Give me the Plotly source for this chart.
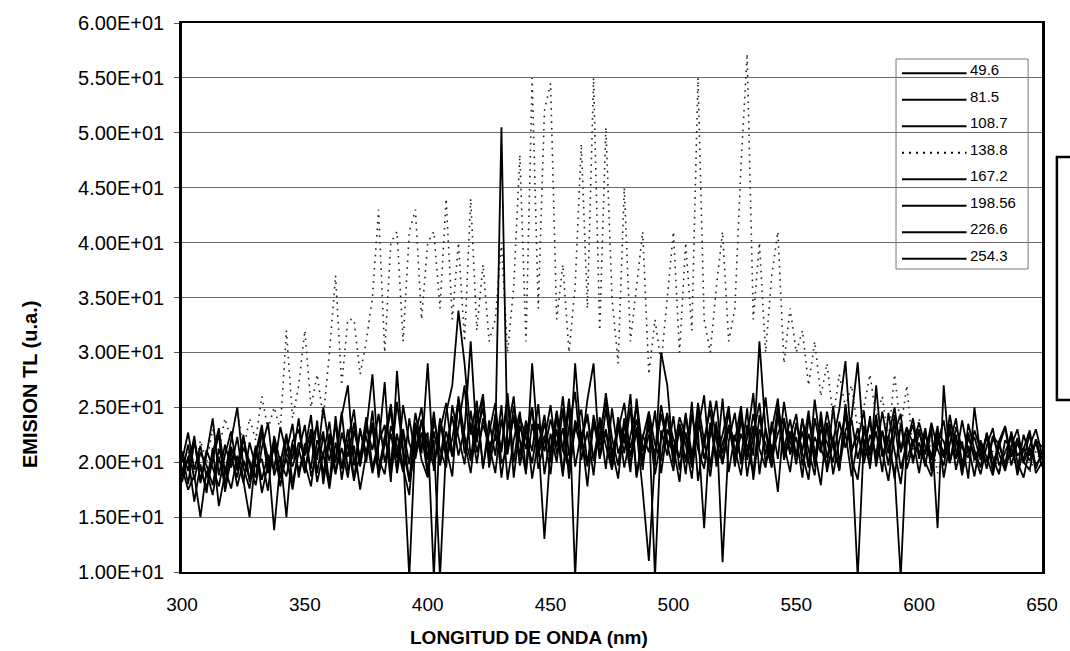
import plotly.graph_objects as go

# ---------------- data ----------------
# wavelength sampling grid (nm), 2.5 nm step from 300 to 650
wavelength = [300 + 2.5 * i for i in range(141)]

series_names = ["49.6", "81.5", "108.7", "138.8", "167.2", "198.56", "226.6", "254.3"]

em_49_6 = [
    19.5, 17.5, 18.8, 15.0, 19.2, 17.0, 20.5, 18.0, 21.0, 17.8,
    20.2, 18.5, 21.5, 17.2, 19.8, 22.0, 18.6, 20.4, 17.5, 21.2,
    19.0, 22.5, 18.2, 20.8, 17.6, 21.8, 19.4, 23.0, 18.5, 20.6,
    22.4, 19.0, 21.5, 27.3, 18.8, 22.6, 19.5, 17.0, 23.4, 20.2,
    18.6, 22.8, 19.8, 24.5, 27.0, 33.8, 29.0, 22.5, 25.6, 19.4,
    23.8, 20.6, 25.2, 18.4, 22.0, 24.6, 19.2, 23.5, 20.8, 22.4,
    18.9, 24.2, 21.0, 25.8, 19.6, 22.7, 17.8, 23.9, 20.4, 24.8,
    21.2, 18.5, 23.6, 19.8, 22.9, 17.4, 11.0, 20.5, 24.4, 21.6,
    19.2, 23.4, 20.0, 25.5, 18.3, 22.1, 24.8, 19.6, 21.8, 23.2,
    20.4, 24.6, 18.7, 22.5, 25.4, 19.9, 21.6, 17.3, 23.8, 20.7,
    22.3, 18.6, 24.1, 20.9, 17.9, 23.6, 21.4, 19.3, 24.9, 20.2,
    18.4, 23.3, 20.6, 22.8, 19.1, 24.5, 21.0, 18.0, 22.6, 20.3,
    21.8, 19.6, 23.2, 14.0, 27.0, 20.1, 22.5, 19.0, 21.5, 18.7,
    22.0, 20.4, 18.8, 21.9, 19.5, 22.8, 20.0, 18.6, 21.3, 19.8,
    20.5,
]

em_81_5 = [
    21.0, 19.2, 22.4, 18.1, 20.7, 24.0, 18.8, 21.6, 19.5, 22.3,
    18.3, 15.0, 20.6, 22.8, 19.1, 21.4, 17.8, 20.9, 23.5, 18.6,
    21.7, 19.4, 23.8, 18.0, 22.1, 20.3, 24.6, 19.2, 21.5, 17.5,
    20.8, 23.2, 18.9, 21.6, 24.8, 19.0, 22.7, 18.2, 21.1, 23.9,
    19.3, 22.0, 9.5, 21.4, 24.2, 20.6, 23.0, 31.0, 21.8, 25.9,
    20.1, 24.4, 18.6, 22.9, 26.0, 19.7, 23.1, 21.0, 25.3, 18.9,
    22.6, 20.0, 24.9, 18.5, 23.4, 21.2, 25.7, 29.0, 20.3, 22.8,
    19.4, 24.1, 21.7, 26.2, 18.8, 22.5, 20.9, 24.7, 19.0, 23.0,
    21.4, 18.2, 24.3, 20.7, 22.9, 26.1, 19.5, 23.7, 10.9, 21.9,
    24.5, 19.8, 22.2, 26.3, 18.9, 23.1, 20.4, 25.2, 21.6, 19.1,
    23.6, 20.8, 18.4, 24.0, 21.3, 19.6, 25.1, 20.0, 22.7, 18.7,
    21.9, 24.7, 19.4, 27.0, 20.6, 22.4, 18.5, 23.5, 20.2, 22.1,
    19.0, 22.6, 20.5, 23.3, 18.6, 21.7, 24.0, 19.8, 22.2, 20.7,
    18.9, 21.5, 23.1, 19.7, 20.9, 22.4, 18.8, 21.2, 22.9, 19.4,
    21.0,
]

em_108_7 = [
    18.2, 20.5, 16.4, 19.8, 17.2, 21.3, 16.0, 19.0, 22.1, 25.0,
    19.5, 17.6, 21.2, 18.4, 20.7, 13.8, 19.9, 22.6, 18.1, 21.0,
    23.4, 18.7, 20.9, 22.8, 17.9, 24.2, 19.4, 21.7, 18.3, 23.1,
    20.0, 24.7, 18.6, 22.3, 19.7, 25.5, 21.0, 18.4, 23.6, 20.8,
    29.0, 19.2, 24.0, 21.5, 18.7, 26.0, 22.4, 20.1, 24.8, 19.6,
    22.7, 25.4, 19.9, 21.1, 24.3, 20.6, 23.8, 18.5, 22.0, 13.0,
    21.3, 24.5, 19.0, 23.2, 26.4, 20.2, 22.8, 18.8, 24.1, 21.5,
    19.3, 23.7, 20.8, 25.0, 18.6, 22.2, 24.6, 19.7, 30.0, 27.0,
    20.5, 22.9, 18.9, 24.4, 21.2, 19.4, 23.6, 20.0, 25.8, 19.1,
    22.5, 20.3, 24.9, 18.4, 23.0, 21.7, 19.5, 24.2, 20.6, 22.8,
    19.8, 23.9, 21.1, 18.8, 24.6, 20.4, 22.3, 19.2, 25.3, 21.0,
    9.5, 22.0, 19.6, 23.8, 20.9, 18.3, 22.7, 24.4, 19.4, 21.6,
    23.0, 20.0, 18.7, 22.4, 20.8, 23.5, 19.3, 21.9, 18.5, 25.0,
    20.6, 22.3, 19.1, 21.4, 23.2, 19.7, 21.8, 20.2, 22.6, 19.0,
    20.0,
]

em_138_8 = [
    20.0, 21.0, 19.0, 22.0, 20.0, 23.0, 21.0, 24.0, 22.0, 25.0,
    21.0, 24.0, 22.0, 26.0, 23.0, 25.0, 23.0, 32.0, 24.0, 27.0,
    32.0, 25.0, 28.0, 24.0, 30.0, 37.0, 27.0, 33.0, 33.0, 28.0,
    31.0, 35.0, 43.0, 30.0, 40.0, 41.0, 31.0, 41.0, 43.0, 33.0,
    40.0, 41.0, 34.0, 44.0, 33.0, 40.0, 31.0, 44.0, 32.0, 38.0,
    31.0, 33.0, 40.0, 30.0, 36.0, 48.0, 31.0, 55.0, 34.0, 52.0,
    54.5, 33.0, 38.0, 30.0, 36.0, 49.0, 34.0, 55.0, 32.0, 50.5,
    35.0, 29.0, 45.0, 31.0, 36.0, 41.0, 28.0, 33.0, 29.0, 35.0,
    41.0, 30.0, 40.0, 32.0, 55.0, 33.0, 30.0, 36.0, 41.0, 31.0,
    34.0, 47.0, 57.2, 33.0, 40.0, 30.0, 37.0, 41.0, 29.0, 34.0,
    30.0, 32.0, 27.0, 31.0, 26.0, 29.0, 24.0, 28.0, 25.0, 27.0,
    23.0, 25.0, 28.0, 24.0, 26.0, 22.0, 28.0, 23.0, 27.0, 21.0,
    24.0, 20.0, 22.0, 19.0, 21.0, 20.0, 22.0, 19.0, 21.0, 20.0,
    22.0, 20.0, 21.0, 19.0, 21.0, 22.0, 20.0, 21.0, 19.0, 21.0,
    20.0,
]

em_167_2 = [
    20.8, 18.0, 21.9, 19.4, 17.7, 20.2, 22.6, 17.3, 20.4, 18.6,
    22.2, 19.7, 17.9, 21.3, 23.6, 18.8, 20.5, 15.0, 21.7, 19.2,
    21.1, 24.3, 19.0, 22.4, 20.1, 23.5, 18.4, 21.9, 24.8, 19.6,
    22.9, 28.0, 20.3, 18.9, 23.3, 21.5, 19.1, 24.0, 20.6, 22.7,
    18.8, 23.8, 21.2, 19.5, 25.2, 22.3, 19.8, 24.7, 20.9, 23.4,
    21.6, 19.0, 23.9, 20.7, 25.1, 22.0, 18.9, 29.0, 21.4, 24.3,
    20.0, 23.0, 18.7, 25.6, 9.5, 22.5, 24.1, 20.3, 23.6, 19.4,
    24.9, 20.8, 22.6, 19.1, 25.8, 21.0, 23.3, 18.9, 22.1, 24.5,
    19.8, 23.5, 21.6, 18.5, 24.7, 20.3, 22.5, 25.6, 19.9, 23.1,
    21.3, 18.8, 23.4, 20.6, 31.0, 22.8, 19.7, 24.6, 21.1, 23.9,
    20.5, 22.8, 19.5, 25.7, 21.4, 23.3, 18.9, 22.0, 24.2, 20.9,
    23.1, 19.9, 22.5, 20.7, 24.6, 21.3, 19.2, 9.5, 21.8, 23.4,
    20.3, 22.9, 19.6, 21.7, 23.8, 20.0, 22.2, 18.8, 23.5, 21.1,
    19.5, 22.7, 20.4, 18.9, 22.0, 21.2, 19.3, 22.5, 20.6, 21.8,
    19.6,
]

em_198_56 = [
    19.0, 21.6, 18.4, 20.9, 19.7, 17.9, 21.2, 19.3, 17.6, 20.6,
    18.1, 21.8, 19.6, 20.3, 17.4, 22.4, 20.0, 18.7, 21.9, 23.0,
    19.9, 17.8, 22.0, 20.6, 23.7, 19.1, 21.3, 18.6, 22.9, 20.4,
    24.1, 19.5, 21.8, 23.4, 18.2, 28.3, 20.7, 9.5, 22.5, 25.0,
    20.2, 24.6, 19.7, 22.8, 20.5, 25.3, 21.9, 19.0, 23.7, 26.2,
    19.5, 22.6, 20.9, 25.9, 18.6, 23.3, 21.2, 24.9, 19.4, 22.0,
    25.2, 20.7, 23.1, 19.3, 29.0, 21.8, 24.4, 20.1, 22.6, 25.5,
    20.4, 23.5, 19.5, 22.4, 25.1, 20.0, 23.8, 9.5, 22.9, 20.6,
    24.2, 19.3, 22.7, 20.1, 25.4, 21.9, 18.7, 23.3, 20.8, 24.7,
    19.6, 23.8, 21.4, 19.0, 24.3, 20.7, 22.9, 25.8, 20.2, 22.4,
    24.4, 19.7, 22.6, 20.3, 23.9, 19.1, 22.1, 24.8, 29.2, 21.2,
    22.4, 20.5, 24.2, 19.6, 22.9, 20.8, 23.6, 19.4, 21.7, 24.0,
    20.6, 23.1, 19.2, 22.0, 20.4, 24.3, 21.0, 19.5, 22.7, 20.2,
    21.7, 19.4, 22.2, 20.8, 19.2, 21.5, 23.0, 20.0, 19.3, 22.1,
    20.2,
]

em_226_6 = [
    20.1, 22.7, 19.3, 21.5, 18.6, 20.8, 23.1, 18.9, 21.4, 19.6,
    22.5, 18.2, 20.9, 23.4, 19.0, 21.7, 18.5, 22.1, 20.3, 24.0,
    19.4, 21.9, 23.3, 18.8, 22.6, 20.0, 24.2, 27.0, 19.7, 22.8,
    20.9, 23.6, 19.2, 22.2, 25.3, 20.4, 23.0, 19.8, 24.5, 21.4,
    22.7, 9.5, 23.9, 20.3, 22.1, 25.7, 20.8, 23.6, 19.9, 24.0,
    21.7, 22.0, 50.5, 21.0, 24.2, 19.8, 22.7, 25.0, 20.5, 23.6,
    20.6, 24.7, 21.1, 19.4, 23.8, 22.2, 19.6, 24.3, 21.5, 23.0,
    19.8, 22.9, 25.4, 20.5, 23.2, 19.3, 24.6, 21.6, 20.1, 24.3,
    22.1, 20.4, 24.5, 19.7, 22.8, 14.0, 23.4, 20.6, 22.5, 25.1,
    19.9, 22.6, 20.8, 24.4, 21.2, 19.5, 23.7, 20.3, 25.5, 21.8,
    20.7, 24.0, 19.8, 22.3, 20.9, 24.6, 21.6, 19.4, 22.9, 24.1,
    29.1, 21.5, 23.7, 20.2, 22.8, 19.7, 24.3, 21.3, 23.2, 19.9,
    22.8, 20.7, 23.6, 21.2, 19.7, 22.9, 20.3, 23.8, 20.9, 22.3,
    20.2, 22.6, 19.6, 21.9, 23.3, 20.5, 22.2, 19.9, 21.4, 23.0,
    20.7,
]

em_254_3 = [
    18.7, 20.3, 22.0, 18.3, 21.1, 19.5, 17.8, 20.7, 22.8, 19.2,
    21.3, 20.1, 18.6, 22.7, 20.4, 19.3, 23.2, 20.8, 19.6, 21.8,
    20.6, 23.0, 20.2, 25.0, 21.4, 18.9, 22.7, 20.5, 23.6, 19.8,
    23.3, 21.1, 24.4, 20.0, 22.6, 19.4, 25.2, 21.7, 20.3, 23.8,
    21.5, 19.6, 22.9, 25.4, 20.7, 23.2, 27.0, 20.4, 22.6, 24.9,
    20.8, 23.7, 21.2, 26.3, 20.0, 24.1, 22.3, 19.9, 23.5, 21.0,
    23.9, 21.4, 26.0, 20.6, 22.9, 24.8, 19.9, 23.4, 21.8, 26.3,
    22.2, 19.7, 24.0, 21.3, 23.9, 20.2, 22.5, 20.8, 25.2, 22.0,
    20.9, 24.1, 22.4, 19.5, 23.8, 21.3, 25.6, 22.0, 19.8, 23.4,
    21.9, 25.1, 20.2, 23.3, 21.5, 25.9, 20.5, 22.6, 24.0, 20.9,
    23.5, 21.0, 24.7, 19.6, 23.0, 21.8, 20.0, 23.7, 21.3, 23.9,
    20.3, 22.8, 21.1, 24.3, 20.5, 22.2, 25.0, 20.9, 23.1, 21.7,
    23.6, 21.4, 20.2, 22.7, 21.9, 19.9, 23.2, 21.3, 20.4, 22.9,
    21.1, 20.0, 22.4, 21.6, 19.8, 22.7, 20.6, 21.3, 20.1, 22.0,
    21.4,
]

series_values = [em_49_6, em_81_5, em_108_7, em_138_8,
                 em_167_2, em_198_56, em_226_6, em_254_3]
dotted_series = "138.8"

y_tick_vals = [10, 15, 20, 25, 30, 35, 40, 45, 50, 55, 60]
y_tick_text = ["1.00E+01", "1.50E+01", "2.00E+01", "2.50E+01", "3.00E+01", "3.50E+01",
               "4.00E+01", "4.50E+01", "5.00E+01", "5.50E+01", "6.00E+01"]
x_tick_vals = [300, 350, 400, 450, 500, 550, 600, 650]

x_title = "LONGITUD DE ONDA (nm)"
y_title = "EMISION TL (u.a.)"

# ---------------- layout constants (pixels) ----------------
W, H = 1070, 651
PL, PR, PT, PB = 182, 1048, 23, 572
FONT = "Liberation Sans, Arial, sans-serif"


def px_x(p):
    return (p - PL) / (PR - PL)


def px_y(p):
    return (PB - p) / (PB - PT)


fig = go.Figure()
for name, vals in zip(series_names, series_values):
    if name == dotted_series:
        line = dict(color="#222222", width=1.6, dash="1.6px,5px")
    else:
        line = dict(color="#000000", width=1.8)
    fig.add_trace(go.Scatter(x=wavelength, y=vals, mode="lines", name=name,
                             line=line, showlegend=False))

# manual legend (box, samples, labels)
shapes = []
annotations = []
leg_x0, leg_x1, leg_y0, leg_y1 = 901, 1034, 59, 269
shapes.append(dict(type="rect", xref="paper", yref="paper",
                   x0=px_x(leg_x0), x1=px_x(leg_x1), y0=px_y(leg_y1), y1=px_y(leg_y0),
                   line=dict(color="#777777", width=1),
                   fillcolor="rgba(255,255,255,0)", layer="above"))
row_y0, row_dy = 73.3, 26.5
for k, name in enumerate(series_names):
    ly = row_y0 + k * row_dy
    dash = "2px,5px" if name == dotted_series else "solid"
    shapes.append(dict(type="line", xref="paper", yref="paper",
                       x0=px_x(907), x1=px_x(972), y0=px_y(ly), y1=px_y(ly),
                       line=dict(color="#000000", width=2, dash=dash), layer="above"))
    annotations.append(dict(xref="paper", yref="paper", x=px_x(973), y=px_y(ly - 3.5),
                            text=name, showarrow=False, xanchor="left", yanchor="middle",
                            font=dict(family=FONT, size=15, color="#000000")))

# bracket at the right edge of the page
shapes.append(dict(type="path", xref="paper", yref="paper",
                   path="M {a},{b} L {c},{b} L {c},{d} L {a},{d}".format(
                       a=px_x(1078), c=px_x(1063), b=px_y(157), d=px_y(400)),
                   line=dict(color="#000000", width=2.5)))

# axis titles
annotations.append(dict(xref="paper", yref="paper", x=px_x(531), y=px_y(637),
                        text=x_title, showarrow=False, xanchor="center", yanchor="middle",
                        font=dict(family=FONT, size=19, color="#000000", weight="bold")))
annotations.append(dict(xref="paper", yref="paper", x=px_x(29), y=px_y(385),
                        text=y_title, showarrow=False, textangle=-90,
                        xanchor="center", yanchor="middle",
                        font=dict(family=FONT, size=20, color="#000000", weight="bold")))

fig.update_layout(
    width=W, height=H,
    margin=dict(l=PL, r=W - PR, t=PT, b=H - PB, pad=0),
    paper_bgcolor="white", plot_bgcolor="white",
    font=dict(family=FONT, color="#000000"),
    shapes=shapes, annotations=annotations,
    showlegend=False,
    xaxis=dict(range=[300, 650], tickvals=x_tick_vals, showgrid=False, zeroline=False,
               showline=True, linecolor="#000000", linewidth=2, mirror=True,
               ticks="", ticklabelstandoff=14, tickfont=dict(size=19, family=FONT)),
    yaxis=dict(range=[10, 60], tickvals=y_tick_vals, ticktext=y_tick_text,
               showgrid=True, gridcolor="#6a6a6a", gridwidth=1, zeroline=False,
               showline=True, linecolor="#000000", linewidth=2.5, mirror=True,
               ticks="outside", ticklen=5, tickcolor="#555555", ticklabelstandoff=6,
               tickfont=dict(size=20, family=FONT)),
)

fig.write_html("out.html")
